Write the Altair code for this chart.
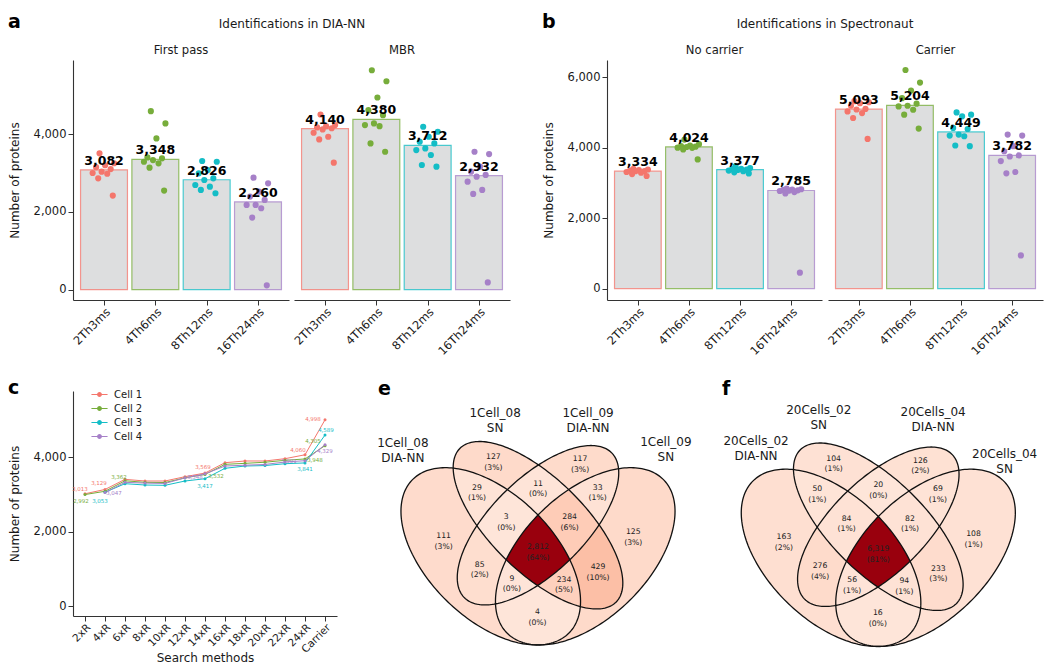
import json
import math
import altair as alt
import pandas as pd

FONT = "DejaVu Sans"
INK = "#1a1a1a"
PAL = ["#F4766C", "#77AD3B", "#14BDC6", "#A680C8"]

# ---------------- data: panels a / b ----------------
METHODS = ["2Th3ms", "4Th6ms", "8Th12ms", "16Th24ms"]

A_FACETS = ["First pass", "MBR"]
A_BARS_FIRST = [3082, 3348, 2826, 2260]
A_BARS_MBR = [4140, 4380, 3712, 2932]
A_PTS_FIRST = [
    [3505, 3250, 3200, 3150, 3100, 3034, 3000, 2980, 2863, 2419],
    [4590, 4274, 3889, 3400, 3376, 3333, 3290, 3248, 3137, 2547],
    [3308, 3290, 3077, 2992, 2863, 2820, 2692, 2649, 2564, 2479],
    [2880, 2735, 2521, 2393, 2308, 2179, 2179, 2094, 1854, 111],
]
A_PTS_MBR = [
    [4504, 4231, 4205, 4171, 4150, 4120, 4034, 3932, 3863, 3265],
    [5641, 5359, 4940, 4615, 4487, 4274, 4231, 4205, 3761, 3547],
    [4188, 4060, 3932, 3803, 3761, 3632, 3590, 3462, 3205, 3162],
    [3547, 3487, 3162, 3034, 2950, 2906, 2778, 2564, 2462, 188],
]

B_FACETS = ["No carrier", "Carrier"]
B_BARS_NOC = [3334, 4024, 3377, 2785]
B_BARS_CAR = [5093, 5204, 4449, 3782]
B_PTS_NOC = [
    [3400, 3380, 3366, 3350, 3338, 3330, 3310, 3291, 3250, 3197],
    [4231, 4100, 4060, 4043, 4030, 4020, 4000, 3996, 3950, 3667],
    [3480, 3420, 3400, 3390, 3380, 3370, 3350, 3330, 3300, 3270],
    [2840, 2820, 2810, 2800, 2790, 2780, 2770, 2740, 2700, 451],
]
B_PTS_CAR = [
    [5320, 5290, 5265, 5190, 5100, 5085, 5030, 4983, 4842, 4250],
    [6206, 5848, 5622, 5406, 5250, 5190, 5171, 5078, 4937, 4542],
    [5002, 4937, 4890, 4561, 4530, 4372, 4344, 4325, 4062, 4043],
    [4372, 4344, 4043, 3900, 3780, 3750, 3620, 3310, 3272, 940],
]

# ---------------- data: panel c ----------------
C_METHODS = ["2xR", "4xR", "6xR", "8xR", "10xR", "12xR", "14xR", "16xR",
             "18xR", "20xR", "22xR", "24xR", "Carrier"]
C_CELLS = ["Cell 1", "Cell 2", "Cell 3", "Cell 4"]
C_CELL1 = [3013, 3129, 3400, 3356, 3356, 3472, 3569, 3848, 3893, 3893, 3955, 4060, 4998]
C_CELL2 = [2992, 3080, 3362, 3320, 3315, 3440, 3532, 3803, 3830, 3860, 3911, 3948, 4305]
C_CELL3 = [None, 3053, 3284, 3248, 3240, 3356, 3417, 3697, 3758, 3770, 3820, 3841, 4589]
C_CELL4 = [None, 3047, 3320, 3300, 3290, 3440, 3548, 3758, 3780, 3800, 3866, 3901, 4329]
# which points carry a value label, and the label nudge (dx, dy) in pixels
C_LABEL_NUDGE = {
    ("Cell 1", 0): (-5, -5), ("Cell 1", 1): (-6, -6), ("Cell 1", 6): (-2, -6),
    ("Cell 1", 11): (-7, -5), ("Cell 1", 12): (-12, -1),
    ("Cell 2", 0): (-4, 6), ("Cell 2", 2): (-6, -4), ("Cell 2", 6): (11, 2),
    ("Cell 2", 11): (10, 1), ("Cell 2", 12): (-12, -5),
    ("Cell 3", 1): (-5, 9), ("Cell 3", 6): (0, 7), ("Cell 3", 11): (0, 6),
    ("Cell 3", 12): (1, -5),
    ("Cell 4", 1): (9, 0), ("Cell 4", 6): (-10, 3), ("Cell 4", 11): (-16, 0),
    ("Cell 4", 12): (0, 6),
}

# ---------------- data: panels e / f ----------------
REGIONS = ["A", "B", "C", "D", "AB", "AC", "AD", "BC", "BD", "CD",
           "ABC", "ABD", "ACD", "BCD", "ABCD"]
E_SETS = ["1Cell_08\nDIA-NN", "1Cell_08\nSN", "1Cell_09\nDIA-NN", "1Cell_09\nSN"]
E_COUNTS = [111, 127, 117, 125, 29, 85, 4, 11, 429, 33, 3, 234, 9, 284, 2812]
E_PCTS = ["3%", "3%", "3%", "3%", "1%", "2%", "0%", "0%", "10%", "1%",
          "0%", "5%", "0%", "6%", "64%"]
F_SETS = ["20Cells_02\nDIA-NN", "20Cells_02\nSN", "20Cells_04\nDIA-NN", "20Cells_04\nSN"]
F_COUNTS = [163, 104, 126, 108, 50, 276, 16, 20, 233, 69, 84, 94, 56, 82, 6319]
F_PCTS = ["2%", "1%", "2%", "1%", "1%", "4%", "0%", "0%", "3%", "1%",
          "1%", "1%", "1%", "1%", "81%"]

# ---------------- helpers ----------------
LABEL_EXPR = "%s[datum.value]" % json.dumps(METHODS)


def bars_frame(facets, bars, pts):
    rows = []
    for f, bv, pv in zip(facets, bars, pts):
        for i, m in enumerate(METHODS):
            rows.append(dict(facet=f, method=m, idx=i, kind="bar", value=bv[i], k=0))
            for k, v in enumerate(pv[i]):
                rows.append(dict(facet=f, method=m, idx=i, kind="pt", value=v, k=k))
    return pd.DataFrame(rows)


def letter(t, offset):
    return alt.TitleParams(t, anchor="start", frame="bounds", fontSize=19,
                           fontWeight="bold", font=FONT, color="black", offset=offset)


def bar_panel(df, facets, title, let, ydom, yvals, width, spacing):
    xs = alt.Scale(domain=[-0.604, 3.604], nice=False, zero=False)
    ys = alt.Scale(domain=ydom, nice=False, zero=False)
    xaxis = alt.Axis(values=[0, 1, 2, 3], labelExpr=LABEL_EXPR, labelAngle=-45,
                     labelAlign="right", labelBaseline="top", grid=False,
                     tickSize=5, labelFlush=False, labelOverlap=False,
                     labelFontSize=11.5, labelPadding=1, title=None)
    yaxis = alt.Axis(values=yvals, format=",.0f", title="Number of proteins",
                     grid=False, tickSize=5, labelFlush=False, labelOverlap=False,
                     labelFontSize=11.5, titleFontSize=12, titlePadding=12)
    cs = alt.Scale(domain=METHODS, range=PAL)
    base = alt.Chart()
    bars = base.transform_filter("datum.kind == 'bar'").transform_calculate(
        x0="datum.idx - 0.457", x1="datum.idx + 0.457"
    ).mark_bar(fill="#DDDEDF", strokeWidth=1.2, strokeOpacity=0.75).encode(
        x=alt.X("x0:Q", scale=xs, axis=xaxis), x2="x1:Q",
        y=alt.Y("value:Q", scale=ys, axis=yaxis), y2=alt.datum(0),
        stroke=alt.Stroke("method:N", scale=cs, legend=None),
    )
    pts = base.transform_filter("datum.kind == 'pt'").transform_calculate(
        jx="datum.idx + ((datum.k * 0.618034 + 0.31) % 1 - 0.5) * 0.46"
    ).mark_circle(size=38, opacity=1).encode(
        x=alt.X("jx:Q", scale=xs, axis=xaxis),
        y=alt.Y("value:Q", scale=ys, axis=yaxis),
        color=alt.Color("method:N", scale=cs, legend=None),
    )
    txt = base.transform_filter("datum.kind == 'bar'").mark_text(
        fontWeight="bold", fontSize=12.5, baseline="alphabetic", dy=-5,
        color="black", font=FONT
    ).encode(
        x=alt.X("idx:Q", scale=xs, axis=xaxis),
        y=alt.Y("value:Q", scale=ys, axis=yaxis),
        text=alt.Text("value:Q", format=","),
    )
    lay = alt.layer(bars, pts, txt, data=df).properties(width=width, height=240)
    return lay.facet(
        column=alt.Column("facet:N", sort=facets, title=title,
                          header=alt.Header(labelFontSize=11.6, titleFontSize=12,
                                            labelPadding=3, titlePadding=4,
                                            titleFontWeight="normal",
                                            labelFont=FONT, titleFont=FONT,
                                            labelColor=INK, titleColor=INK)),
        spacing=spacing,
        title=letter(let, -14),
    )


df_a = bars_frame(A_FACETS, [A_BARS_FIRST, A_BARS_MBR], [A_PTS_FIRST, A_PTS_MBR])
df_b = bars_frame(B_FACETS, [B_BARS_NOC, B_BARS_CAR], [B_PTS_NOC, B_PTS_CAR])

panel_a = bar_panel(df_a, A_FACETS, "Identifications in DIA-NN", "a",
                    [-265, 5905], [0, 2000, 4000], 216, 5)
panel_b = bar_panel(df_b, B_FACETS, "Identifications in Spectronaut", "b",
                    [-325, 6490], [0, 2000, 4000, 6000], 215, 6)

# ---------------- panel c ----------------
rows = []
for cell, vals in zip(C_CELLS, [C_CELL1, C_CELL2, C_CELL3, C_CELL4]):
    for i, (m, v) in enumerate(zip(C_METHODS, vals)):
        if v is not None:
            rows.append(dict(cell=cell, method=m, idx=i, value=v))
df_c = pd.DataFrame(rows)

cs_c = alt.Scale(domain=C_CELLS, range=PAL)
xc = alt.X("method:N", sort=C_METHODS, scale=alt.Scale(type="point", padding=0.6),
           axis=alt.Axis(labelAngle=-45, labelAlign="right", labelBaseline="top",
                         title="Search methods", grid=False, tickSize=5,
                         labelOverlap=False, labelFontSize=10.5, titleFontSize=12,
                         labelPadding=1, titlePadding=-2))
yc = alt.Y("value:Q", scale=alt.Scale(domain=[-268, 5772], nice=False, zero=False),
           axis=alt.Axis(values=[0, 2000, 4000], format=",.0f",
                         title="Number of proteins", grid=False, tickSize=5,
                         labelFlush=False, labelFontSize=11.5, titleFontSize=12,
                         titlePadding=12))
# legend symbol: thin bar (the line) plus a dot, filled with the series colour
LEG_PATH = ("M-1,-0.065L1,-0.065L1,0.065L-1,0.065Z"
            "M-0.3,0A0.3,0.3,0,1,1,0.3,0A0.3,0.3,0,1,1,-0.3,0Z")
lines_c = alt.Chart(df_c).mark_line(strokeWidth=1).encode(
    x=xc, y=yc, stroke=alt.Stroke("cell:N", scale=cs_c, legend=None))
pts_c = alt.Chart(df_c).mark_circle(size=9, opacity=1).encode(
    x=xc, y=yc,
    color=alt.Color("cell:N", scale=cs_c, legend=alt.Legend(
        title=None, orient="none", legendX=18, legendY=-5, symbolType=LEG_PATH,
        symbolSize=260, symbolStrokeWidth=0, symbolOpacity=1, labelFontSize=10,
        labelFont=FONT, rowPadding=0, padding=0, labelOffset=6, labelColor=INK)))
labs_c = []
for (cell, i), (ddx, ddy) in C_LABEL_NUDGE.items():
    labs_c.append(
        alt.Chart(df_c).transform_filter(
            "datum.cell == '%s' && datum.idx == %d" % (cell, i)
        ).mark_text(fontSize=5.5, dx=ddx, dy=ddy).encode(
            x=xc, y=yc, text=alt.Text("value:Q", format=","),
            fill=alt.Fill("cell:N", scale=cs_c, legend=None))
    )
panel_c = alt.layer(lines_c, pts_c, *labs_c).properties(
    width=264, height=225, title=letter("c", -12))

# ---------------- panels e / f (Venn) ----------------
# four-ellipse Venn shape (centre u, centre v, semi-axis a, semi-axis b, rotation deg)
ELLIPSES = [(0.35, 0.47, 0.35, 0.20, 135), (0.50, 0.57, 0.35, 0.15, 135),
            (0.50, 0.57, 0.33, 0.15, 45), (0.65, 0.47, 0.35, 0.20, 45)]
SX, SY = 315.0, 311.0
XE0, YB0 = 365.0, 391.0          # page origin of the e/f group (aligned with plot c top)
E_ORIGIN = (382.5 - XE0, 702.5 - YB0)
F_ORIGIN = (722.8 - XE0, 704.0 - YB0)
E_SETPOS = [(0.071, 0.810), (0.364, 0.908), (0.659, 0.907), (0.906, 0.812)]
F_SETPOS = [(0.112, 0.820), (0.311, 0.921), (0.674, 0.915), (0.901, 0.781)]


def ell_poly(p, n=220):
    cx, cy, a, b, r = p
    t = math.radians(r)
    ct, st = math.cos(t), math.sin(t)
    out = []
    for k in range(n):
        s = 2 * math.pi * k / n
        out.append((cx + a * math.cos(s) * ct - b * math.sin(s) * st,
                    cy + a * math.cos(s) * st + b * math.sin(s) * ct))
    return out


def in_ell(p, u, v):
    cx, cy, a, b, r = p
    t = math.radians(r)
    dx, dy = u - cx, v - cy
    x1 = dx * math.cos(t) + dy * math.sin(t)
    y1 = -dx * math.sin(t) + dy * math.cos(t)
    return (x1 / a) ** 2 + (y1 / b) ** 2 <= 1


def clip(subject, clipper):
    out = subject
    m = len(clipper)
    for i in range(m):
        a = clipper[i]
        b = clipper[(i + 1) % m]
        inp, out = out, []
        if not inp:
            break

        def inside(p):
            return (b[0] - a[0]) * (p[1] - a[1]) - (b[1] - a[1]) * (p[0] - a[0]) >= 0

        def inter(p, q):
            x1, y1 = p
            x2, y2 = q
            x3, y3 = a
            x4, y4 = b
            den = (x1 - x2) * (y3 - y4) - (y1 - y2) * (x3 - x4)
            tt = ((x1 - x3) * (y3 - y4) - (y1 - y3) * (x3 - x4)) / den
            return (x1 + tt * (x2 - x1), y1 + tt * (y2 - y1))

        s = inp[-1]
        for e in inp:
            if inside(e):
                if not inside(s):
                    out.append(inter(s, e))
                out.append(e)
            elif inside(s):
                out.append(inter(s, e))
            s = e
    return out


POLYS = [ell_poly(p) for p in ELLIPSES]
IDX = {"A": 0, "B": 1, "C": 2, "D": 3}

# centroids of exact regions (grid sampling)
sums = {r: [0.0, 0.0, 0] for r in REGIONS}
N = 260
NV = int(N * 0.8)
for iu in range(N):
    u = 0.04 + 0.92 * iu / (N - 1)
    for iv in range(NV):
        v = 0.16 + 0.72 * iv / (NV - 1)
        mem = "".join(s for s in "ABCD" if in_ell(ELLIPSES[IDX[s]], u, v))
        if mem in sums:
            sums[mem][0] += u
            sums[mem][1] += v
            sums[mem][2] += 1
CENTROID = {r: (sums[r][0] / sums[r][2], sums[r][1] / sums[r][2]) for r in REGIONS}


def to_px(org, u, v):
    return (round(org[0] + SX * u, 2), round(org[1] - SY * v, 2))


fill_feats, outline_feats, lab_rows, set_rows = [], [], [], []
for diag, org, counts, pcts, sets, setpos in [
        ("e", E_ORIGIN, E_COUNTS, E_PCTS, E_SETS, E_SETPOS),
        ("f", F_ORIGIN, F_COUNTS, F_PCTS, F_SETS, F_SETPOS)]:
    cmap = dict(zip(REGIONS, counts))
    for reg in sorted(REGIONS, key=len):
        poly = POLYS[IDX[reg[0]]]
        for s in reg[1:]:
            poly = clip(poly, POLYS[IDX[s]])
        ring = [list(to_px(org, u, v)) for u, v in poly]
        ring.append(ring[0])
        fill_feats.append({"type": "Feature", "diag": diag, "count": cmap[reg],
                           "properties": {},
                           "geometry": {"type": "Polygon", "coordinates": [ring]}})
    for poly in POLYS:
        ring = [list(to_px(org, u, v)) for u, v in poly]
        ring.append(ring[0])
        outline_feats.append({"type": "Feature", "properties": {},
                              "geometry": {"type": "Polygon", "coordinates": [ring]}})
    for reg, c, p in zip(REGIONS, counts, pcts):
        x, y = to_px(org, *CENTROID[reg])
        lab_rows.append(dict(x=x, y=y, label="%s\n(%s)" % (format(c, ","), p)))
    for name, (u, v) in zip(sets, setpos):
        x, y = to_px(org, u, v)
        set_rows.append(dict(x=x, y=y, label=name))

letters_df = pd.DataFrame([dict(x=15, y=4, label="e"), dict(x=359, y=4, label="f")])

REDS7 = ["#FEE5D9", "#FCBBA1", "#FC9272", "#FB6A4A", "#EF3B2C", "#CB181D", "#99000D"]
STOPS = [i / 6 for i in range(7)]
PROJ = dict(type="identity", scale=1, translate=[0, 0])

fills = alt.Chart(alt.Data(values=fill_feats)).transform_joinaggregate(
    mn="min(count)", mx="max(count)", groupby=["diag"]
).transform_calculate(
    t="(datum.count - datum.mn) / (datum.mx - datum.mn)"
).mark_geoshape(strokeWidth=0, strokeOpacity=0, clip=False).encode(
    color=alt.Color("t:Q", scale=alt.Scale(domain=STOPS, range=REDS7, interpolate="lab"),
                    legend=None)
).project(**PROJ)
outlines = alt.Chart(alt.Data(values=outline_feats)).mark_geoshape(
    filled=False, stroke="#111111", strokeWidth=1.3, clip=False).project(**PROJ)
reg_labels = alt.Chart(pd.DataFrame(lab_rows)).mark_text(
    fontSize=7.7, lineHeight=10.7, lineBreak="\n", color="#222222", baseline="middle",
    dy=-5.3, clip=False
).encode(longitude="x:Q", latitude="y:Q", text="label:N").project(**PROJ)
set_labels = alt.Chart(pd.DataFrame(set_rows)).mark_text(
    fontSize=12, lineHeight=15, lineBreak="\n", color=INK, baseline="middle",
    dy=-7.5, clip=False
).encode(longitude="x:Q", latitude="y:Q", text="label:N").project(**PROJ)
letters = alt.Chart(letters_df).mark_text(
    fontSize=19, fontWeight="bold", color="black", align="left", baseline="alphabetic",
    clip=False
).encode(longitude="x:Q", latitude="y:Q", text="label:N").project(**PROJ)

panel_ef = alt.layer(fills, outlines, reg_labels, set_labels, letters).properties(
    width=681, height=266)

# ---------------- assemble ----------------
top = alt.hconcat(panel_a, panel_b, spacing=32)
bottom = alt.hconcat(panel_c, panel_ef, spacing=26)
chart = alt.vconcat(top, bottom, spacing=21).properties(
    padding={"top": 5, "left": 0, "right": 0, "bottom": 0}, background="white"
).configure_view(stroke=None).configure_axis(
    labelFont=FONT, titleFont=FONT, domainColor="#333333", tickColor="#333333",
    labelColor=INK, titleColor=INK, titleFontWeight="normal", domainWidth=1.1
).configure_text(font=FONT).configure_title(font=FONT)

chart.save("out.html", embed_options={"renderer": "svg", "actions": False})
